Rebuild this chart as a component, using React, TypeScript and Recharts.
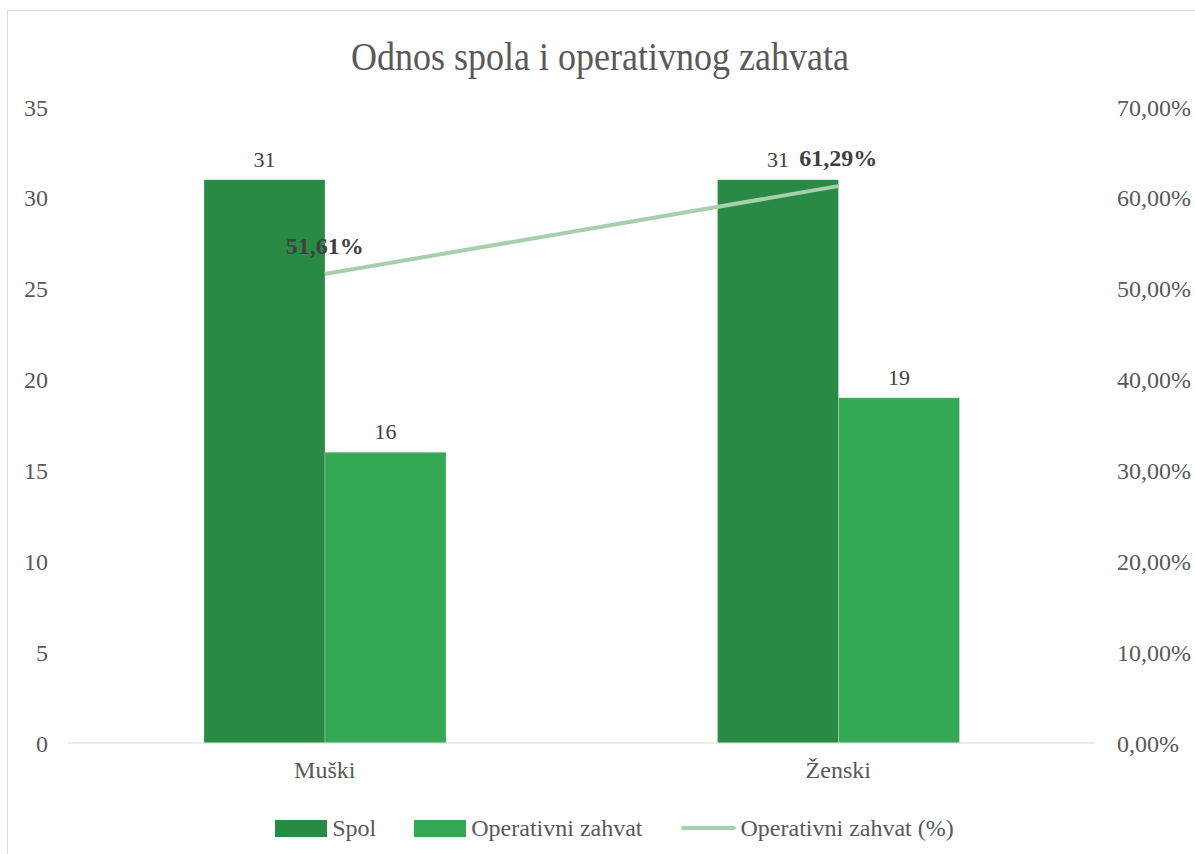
import React from "react"
import {
  ComposedChart,
  Bar,
  Line,
  XAxis,
  YAxis,
  Legend,
  LabelList
} from "recharts"

const categories = ["Muški", "Ženski"]
const spol = [31, 31]
const zahvat = [16, 19]
const zahvatPct = [0.5161, 0.6129]
const leftTicks = [0, 5, 10, 15, 20, 25, 30, 35]
const rightTicks = [0, 0.1, 0.2, 0.3, 0.4, 0.5, 0.6, 0.7]

const data = categories.map((c, i) => ({
  name: c,
  spol: spol[i],
  zahvat: zahvat[i],
  pct: zahvatPct[i]
}))

const FONT = "'Liberation Serif', 'Times New Roman', serif"
const DARK = "#288a45"
const LIGHT = "#35a853"
const LINE = "#a5d0ab"
const TEXT = "#595959"

const pctFmt = (v: number) => (v * 100).toFixed(2).replace(".", ",") + "%"

function LegendContent() {
  const items = [
    { label: "Spol", color: DARK, type: "rect" },
    { label: "Operativni zahvat", color: LIGHT, type: "rect" },
    { label: "Operativni zahvat (%)", color: LINE, type: "line" }
  ]
  return (
    <div
      style={{
        display: "flex",
        justifyContent: "center",
        alignItems: "center",
        height: 40,
        fontFamily: FONT,
        fontSize: 24,
        color: TEXT,
        paddingLeft: 72
      }}
    >
      {items.map((it) => (
        <div
          key={it.label}
          style={{ display: "flex", alignItems: "center", marginRight: 38 }}
        >
          {it.type === "rect" ? (
            <span
              style={{
                display: "inline-block",
                width: 52,
                height: 17,
                background: it.color,
                marginRight: 5
              }}
            />
          ) : (
            <span
              style={{
                display: "inline-block",
                width: 55,
                height: 4,
                borderRadius: 2,
                background: it.color,
                marginRight: 5
              }}
            />
          )}
          <span>{it.label}</span>
        </div>
      ))}
    </div>
  )
}

export default function App() {
  return (
    <div
      style={{
        position: "absolute",
        left: 0,
        top: 0,
        width: 1195,
        height: 854,
        overflow: "hidden",
        background: "#fff"
      }}
    >
      <div
        style={{
          position: "absolute",
          left: 7,
          top: 10,
          width: 1200,
          height: 900,
          border: "1px solid #d9d9d9"
        }}
      />
      <div
        style={{
          position: "absolute",
          left: 0,
          top: 36,
          width: 1200,
          textAlign: "center",
          fontFamily: FONT,
          fontSize: 36,
          color: TEXT,
          transform: "scaleY(1.12)"
        }}
      >
        Odnos spola i operativnog zahvata
      </div>
      <ComposedChart
        width={1195}
        height={854}
        data={data}
        barGap={0}
        margin={{ top: 107, right: 0, left: 0, bottom: 6 }}
        style={{ position: "absolute", left: 0, top: 0 }}
      >
        <XAxis
          dataKey="name"
          height={65}
          tickLine={false}
          tickSize={0}
          tickMargin={18}
          axisLine={{ stroke: "#d9d9d9" }}
          tick={{ fontFamily: FONT, fontSize: 24, fill: TEXT }}
        />
        <YAxis
          yAxisId="left"
          width={68}
          domain={[0, 35]}
          ticks={leftTicks}
          axisLine={false}
          tickLine={false}
          tickSize={0}
          tickMargin={20}
          tick={{ fontFamily: FONT, fontSize: 24, fill: TEXT }}
        />
        <YAxis
          yAxisId="right"
          orientation="right"
          width={100}
          domain={[0, 0.7]}
          ticks={rightTicks}
          tickFormatter={pctFmt}
          axisLine={false}
          tickLine={false}
          tickSize={0}
          tickMargin={22}
          tick={{ fontFamily: FONT, fontSize: 24, fill: TEXT }}
        />
        <Legend
          verticalAlign="bottom"
          height={40}
          content={() => <LegendContent />}
        />
        <Bar
          yAxisId="left"
          dataKey="spol"
          name="Spol"
          fill={DARK}
          stroke="#ffffff"
          strokeOpacity={0.25}
          strokeWidth={1}
          barSize={121}
          isAnimationActive={false}
        >
          <LabelList
            dataKey="spol"
            position="top"
            offset={13}
            style={{ fontFamily: FONT, fontSize: 22, fill: "#404040" }}
          />
        </Bar>
        <Bar
          yAxisId="left"
          dataKey="zahvat"
          name="Operativni zahvat"
          fill={LIGHT}
          stroke="#ffffff"
          strokeOpacity={0.25}
          strokeWidth={1}
          barSize={121}
          isAnimationActive={false}
        >
          <LabelList
            dataKey="zahvat"
            position="top"
            offset={13}
            style={{ fontFamily: FONT, fontSize: 22, fill: "#404040" }}
          />
        </Bar>
        <Line
          yAxisId="right"
          dataKey="pct"
          name="Operativni zahvat (%)"
          stroke={LINE}
          strokeWidth={4}
          dot={false}
          activeDot={false}
          isAnimationActive={false}
        >
          <LabelList
            dataKey="pct"
            position="top"
            offset={20}
            formatter={(v: any) => pctFmt(Number(v))}
            style={{
              fontFamily: FONT,
              fontSize: 24,
              fontWeight: "bold",
              fill: "#404040"
            }}
          />
        </Line>
      </ComposedChart>
    </div>
  )
}
